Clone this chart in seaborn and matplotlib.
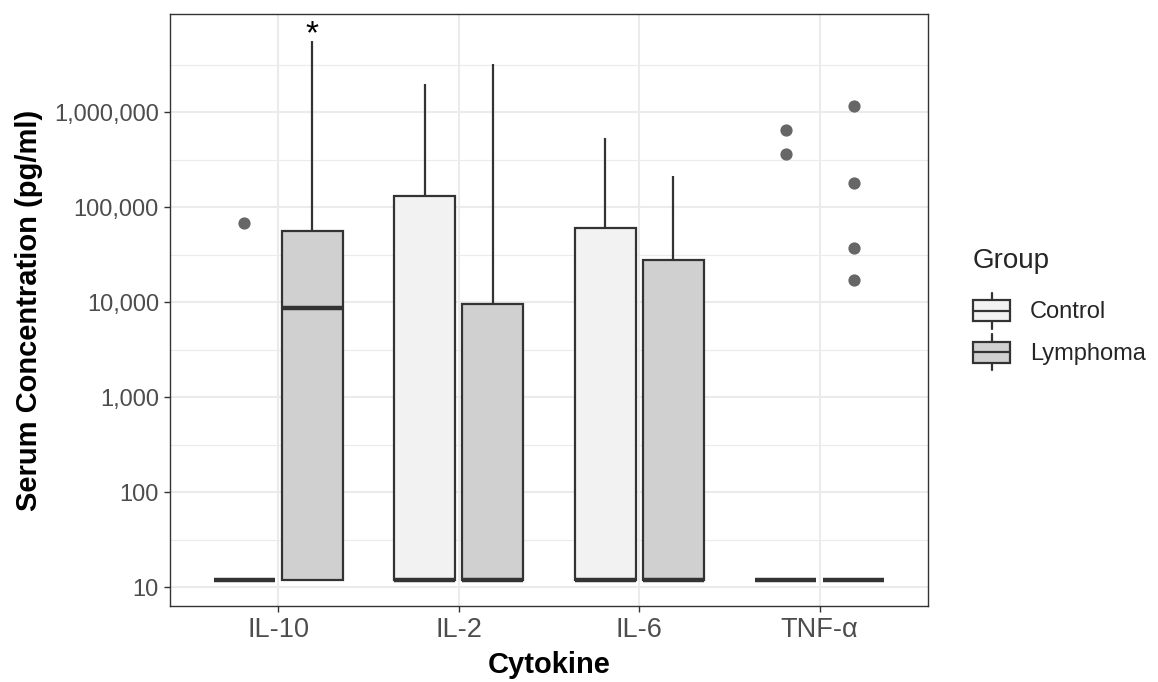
import numpy as np
import pandas as pd
import matplotlib
matplotlib.use("Agg")
import matplotlib.pyplot as plt
import seaborn as sns
from matplotlib.ticker import FixedLocator, FuncFormatter, NullFormatter
from matplotlib.legend_handler import HandlerBase
from matplotlib.patches import Rectangle, Patch
from matplotlib.lines import Line2D

# ---------------- data (serum concentration, pg/ml) ----------------
cytokines = ["IL-10", "IL-2", "IL-6", "TNF-α"]
groups = ["Control", "Lymphoma"]

control_il10 = [12, 12, 12, 12, 12, 12, 12, 12, 68900]
control_il2 = [12, 12, 12, 12, 12, 4500, 132000, 640000, 1990000]
control_il6 = [12, 12, 12, 12, 12, 15000, 60000, 210000, 532000]
control_tnf = [12, 12, 12, 12, 12, 12, 12, 364000, 652000]

lymphoma_il10 = [12, 12, 12, 12, 12, 40, 310, 2400, 8700, 11500, 19800,
                 33000, 56700, 140000, 480000, 1500000, 5670000]
lymphoma_il2 = [12, 12, 12, 12, 12, 12, 12, 12, 12, 150, 900, 3600, 9650,
                41000, 230000, 880000, 3220000]
lymphoma_il6 = [12, 12, 12, 12, 12, 12, 12, 12, 12, 400, 2600, 9800, 28100,
                52000, 97000, 150000, 214000]
lymphoma_tnf = [12, 12, 12, 12, 12, 12, 12, 12, 12, 12, 12, 12, 12,
                17200, 37000, 179000, 1170000]

y_ticks = [10, 100, 1000, 10000, 100000, 1000000]
significance_label = "*"

values = {
    ("IL-10", "Control"): control_il10, ("IL-2", "Control"): control_il2,
    ("IL-6", "Control"): control_il6, ("TNF-α", "Control"): control_tnf,
    ("IL-10", "Lymphoma"): lymphoma_il10, ("IL-2", "Lymphoma"): lymphoma_il2,
    ("IL-6", "Lymphoma"): lymphoma_il6, ("TNF-α", "Lymphoma"): lymphoma_tnf,
}
rows = []
for (cyt, grp), vals in values.items():
    for v in vals:
        rows.append({"Cytokine": cyt, "Group": grp, "Conc": v})
df = pd.DataFrame(rows)

# ---------------- style ----------------
sns.set_style("white")
plt.rcParams["font.family"] = ["Liberation Sans", "DejaVu Sans"]

EDGE = "#333333"
FILLS = {"Control": "#F2F2F2", "Lymphoma": "#D0D0D0"}
GRID = "#EBEBEB"
BOX_LW = 1.6
MED_LW = 3.2

fig = plt.figure(figsize=(11.58, 6.82), dpi=100)
ax = fig.add_axes([170 / 1158, 1 - 606 / 682, (928 - 170) / 1158, (606 - 14) / 682])

sns.boxplot(
    data=df, x="Cytokine", y="Conc", hue="Group",
    order=cytokines, hue_order=groups, palette=FILLS,
    saturation=1, width=0.75, gap=0.1, log_scale=True,
    linecolor=EDGE, linewidth=BOX_LW, fliersize=7.8,
    medianprops={"linewidth": MED_LW, "solid_capstyle": "butt"},
    flierprops={"marker": "o", "markerfacecolor": "#666666",
                "markeredgecolor": "#666666"},
    showcaps=False, legend=False, ax=ax,
)

# axes limits (ggplot-like expansion)
ax.set_xlim(-0.6, len(cytokines) - 0.4)
ax.set_ylim(10 ** 0.803, 10 ** 7.035)

ax.yaxis.set_major_locator(FixedLocator(y_ticks))
ax.yaxis.set_major_formatter(FuncFormatter(lambda v, p: f"{v:,.0f}"))
ax.yaxis.set_minor_locator(FixedLocator([10 ** (k + 0.5) for k in range(0, 7)]))
ax.yaxis.set_minor_formatter(NullFormatter())

ax.set_axisbelow(True)
ax.grid(True, which="major", axis="both", color=GRID, linewidth=1.5)
ax.grid(True, which="minor", axis="y", color=GRID, linewidth=0.8)

for s in ax.spines.values():
    s.set_visible(True)
    s.set_color(EDGE)
    s.set_linewidth(1.0)

ax.tick_params(axis="both", which="major", length=4.5, width=1.0, color=EDGE,
               labelcolor="#4D4D4D", pad=3.5)
ax.tick_params(axis="y", which="major", labelsize=17, left=True)
ax.tick_params(axis="x", which="major", labelsize=19.5, bottom=True)
ax.tick_params(axis="y", which="minor", length=0)

ax.set_xlabel("Cytokine", fontsize=21, fontweight="bold", color="black")
ax.set_ylabel("Serum Concentration (pg/ml)", fontsize=21, fontweight="bold",
              color="black")
ax.xaxis.set_label_coords(0.5, -0.076)
ax.yaxis.set_label_coords(-0.168, 0.5)

# significance marker above IL-10 lymphoma whisker
ax.text(0 + 0.1875, max(lymphoma_il10) * 0.80, significance_label,
        ha="center", va="bottom", fontsize=24, color="black")


# ---------------- legend with ggplot-like box keys ----------------
class BoxKeyHandler(HandlerBase):
    def create_artists(self, legend, orig_handle, xdescent, ydescent,
                       width, height, fontsize, trans):
        x0, y0 = -xdescent, -ydescent
        fc = orig_handle.get_facecolor()
        bl = y0 + 0.21 * height
        bh = 0.58 * height
        xm = x0 + width / 2
        w1 = Line2D([xm, xm], [y0, bl], color=EDGE, lw=BOX_LW, transform=trans)
        w2 = Line2D([xm, xm], [bl + bh, y0 + height], color=EDGE, lw=BOX_LW,
                    transform=trans)
        rect = Rectangle((x0, bl), width, bh, facecolor=fc, edgecolor=EDGE,
                         linewidth=BOX_LW, transform=trans)
        med = Line2D([x0, x0 + width], [bl + bh / 2] * 2, color=EDGE,
                     lw=BOX_LW, transform=trans)
        return [w1, w2, rect, med]


handles = [Patch(facecolor=FILLS[g], edgecolor=EDGE) for g in groups]
leg = fig.legend(
    handles, groups, title="Group", loc="upper left",
    bbox_to_anchor=(973 / 1158, 1 - 248 / 682), bbox_transform=fig.transFigure,
    frameon=False, fontsize=17, title_fontsize=20, alignment="left",
    handlelength=1.57, handleheight=1.97, labelspacing=0.233,
    handletextpad=0.85, borderpad=0.0, borderaxespad=0.0,
    handler_map={Patch: BoxKeyHandler()},
)
leg._legend_box.sep = 13.5

fig.savefig("out.png", dpi=100, facecolor="white")
